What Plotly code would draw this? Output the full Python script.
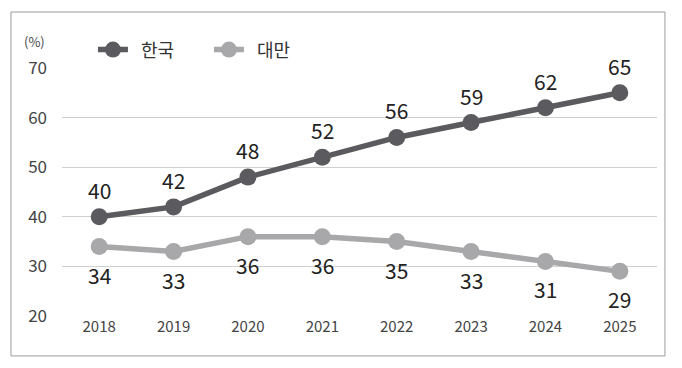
import plotly.graph_objects as go

years = ["2018", "2019", "2020", "2021", "2022", "2023", "2024", "2025"]
korea = [40, 42, 48, 52, 56, 59, 62, 65]
taiwan = [34, 33, 36, 36, 35, 33, 31, 29]
y_ticks = [20, 30, 40, 50, 60, 70]

DARK = "#5b5b5f"
LIGHT = "#a8a8ab"
FONT = "Noto Sans CJK KR"

fig = go.Figure()
fig.add_trace(go.Scatter(x=years, y=korea, name="\u00a0\u00a0한국", mode="lines+markers",
                         line=dict(color=DARK, width=5.5),
                         marker=dict(size=17, color=DARK)))
fig.add_trace(go.Scatter(x=years, y=taiwan, name="\u00a0\u00a0대만", mode="lines+markers",
                         line=dict(color=LIGHT, width=5.5),
                         marker=dict(size=17, color=LIGHT)))

for i, v in enumerate(korea):
    fig.add_annotation(x=i, y=v, text=str(v), showarrow=False, yshift=27,
                       font=dict(size=21, color="#222222", family=FONT))
for i, v in enumerate(taiwan):
    fig.add_annotation(x=i, y=v, text=str(v), showarrow=False, yshift=-28,
                       font=dict(size=21, color="#222222", family=FONT))

fig.add_annotation(xref="paper", yref="paper", x=-0.025, y=1.105, text="(%)",
                   showarrow=False, xanchor="right", yanchor="middle",
                   font=dict(size=13, color="#444444", family=FONT))

fig.add_shape(type="rect", xref="paper", yref="paper",
              x0=-0.0857, x1=1.0134, y0=-0.161, y1=1.2258,
              line=dict(color="#9a9a9a", width=1))

fig.update_layout(
    width=682, height=368,
    margin=dict(l=62, r=25, t=68, b=52),
    paper_bgcolor="white", plot_bgcolor="white",
    font=dict(family=FONT, color="#444444"),
    showlegend=True,
    legend=dict(orientation="h", x=0.052, y=1.073, xanchor="left", yanchor="middle",
                entrywidth=71, entrywidthmode="pixels",
                font=dict(size=18, color="#333333", family=FONT),
                bgcolor="rgba(0,0,0,0)"),
    xaxis=dict(type="category", range=[-0.5, 7.5], showgrid=False, zeroline=False,
               showline=False, ticks="", tickfont=dict(size=15, color="#444444")),
    yaxis=dict(range=[20, 70], tickvals=y_ticks, showgrid=True, gridcolor="#d0d0d0",
               gridwidth=1, zeroline=False, showline=False, ticks="",
               ticklabelstandoff=14, tickfont=dict(size=17, color="#444444")),
)

fig.write_html("out.html", config={"displayModeBar": False},
               post_script="document.body.style.margin='0';")
